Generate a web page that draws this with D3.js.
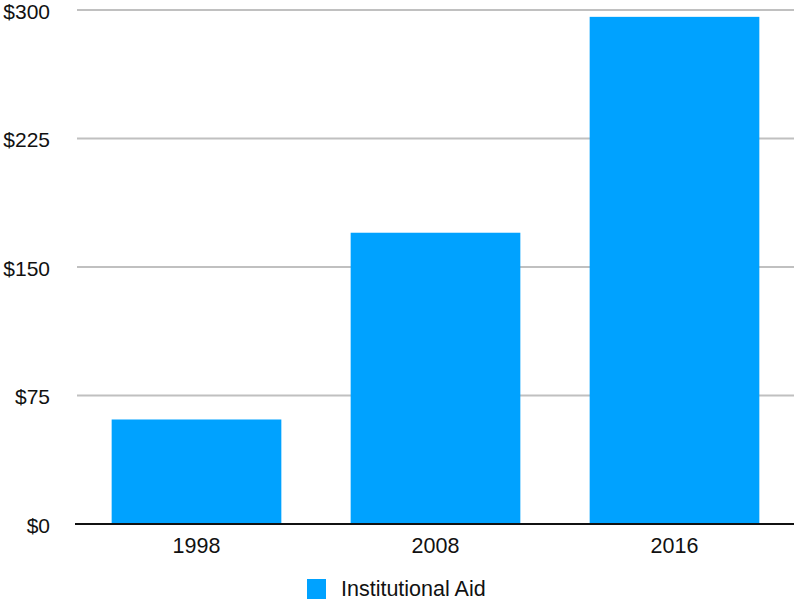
<!DOCTYPE html>
<html>
<head>
<meta charset="utf-8">
<script src="https://cdn.jsdelivr.net/npm/d3@7"></script>
<style>
  html, body { margin: 0; padding: 0; background: #fff; }
  svg { display: block; font-family: "Liberation Sans", Arial, Helvetica, sans-serif; }
</style>
</head>
<body>
<svg id="chart" width="794" height="600"></svg>
<script>
const categories = ["1998", "2008", "2016"];
const values = [61, 170, 296];
const yTicks = [0, 75, 150, 225, 300];
const tickLabels = ["$0", "$75", "$150", "$225", "$300"];
const seriesName = "Institutional Aid";

const svg = d3.select("#chart");
const baseY = 524;

const x = d3.scaleBand().domain(categories).range([77, 794]).paddingInner(0.29).paddingOuter(0.145);
const y = d3.scaleLinear().domain([0, 300]).range([baseY, 10]);

// gridlines
svg.append("g").selectAll("line").data(yTicks.filter(d => d > 0)).join("line")
  .attr("x1", 77).attr("x2", 794)
  .attr("y1", d => y(d)).attr("y2", d => y(d))
  .attr("stroke", "#c0c0c0").attr("stroke-width", 2);

// y tick labels
svg.append("g").selectAll("text").data(yTicks).join("text")
  .attr("x", 50).attr("y", d => y(d) + 1.5)
  .attr("dy", "0.35em")
  .attr("text-anchor", "end")
  .attr("font-size", 21).attr("fill", "#111")
  .text((d, i) => tickLabels[i]);

// bars
svg.append("g").selectAll("rect").data(values).join("rect")
  .attr("x", (d, i) => x(categories[i]))
  .attr("width", x.bandwidth())
  .attr("y", d => y(d))
  .attr("height", d => baseY - y(d))
  .attr("fill", "#00a2ff");

// baseline
svg.append("line").attr("x1", 75).attr("x2", 794)
  .attr("y1", baseY).attr("y2", baseY)
  .attr("stroke", "#111").attr("stroke-width", 2);

// x labels
svg.append("g").selectAll("text").data(categories).join("text")
  .attr("x", d => x(d) + x.bandwidth() / 2)
  .attr("y", 553)
  .attr("text-anchor", "middle")
  .attr("font-size", 21.5).attr("fill", "#111")
  .text(d => d);

// legend
const lg = svg.append("g");
lg.append("rect").attr("x", 307).attr("y", 579).attr("width", 19).attr("height", 20).attr("fill", "#00a2ff");
lg.append("text").attr("x", 341).attr("y", 596).attr("font-size", 21.5).attr("fill", "#111").text(seriesName);
</script>
</body>
</html>
